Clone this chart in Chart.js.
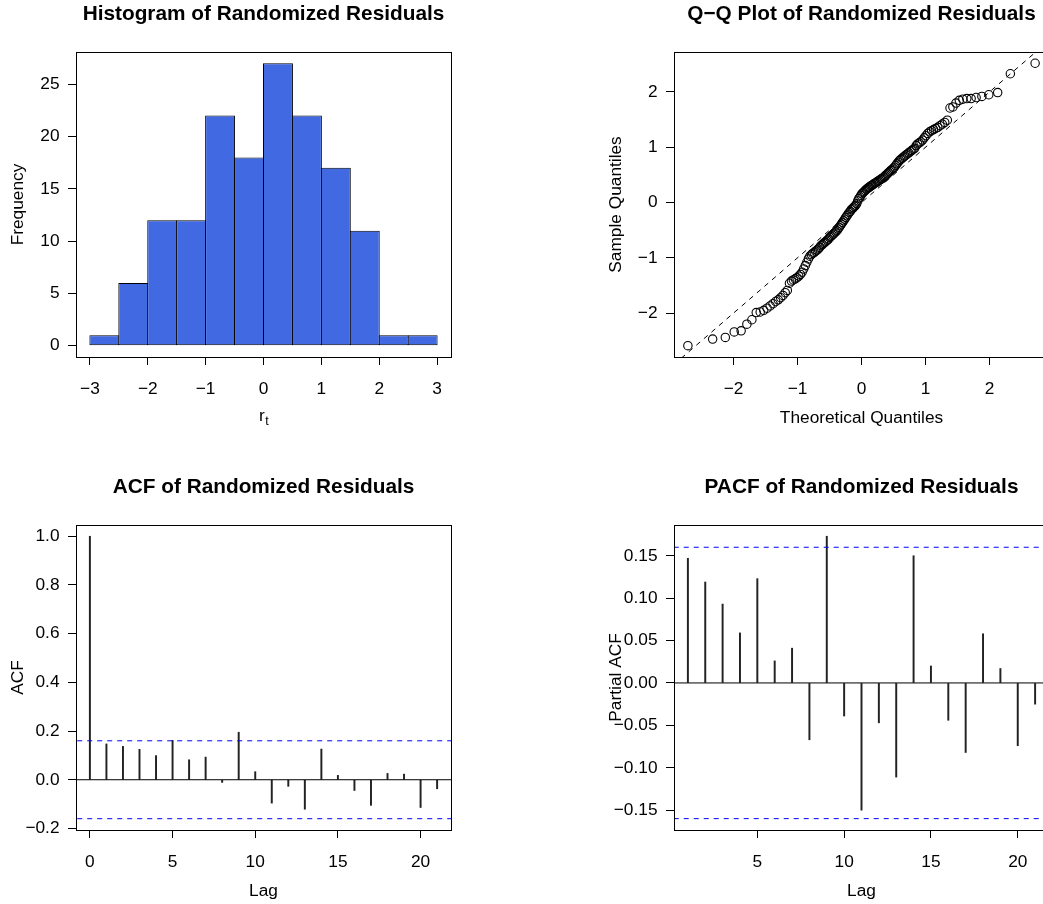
<!DOCTYPE html>
<html lang="en">
<head>
<meta charset="UTF-8">
<title>Randomized Residual Diagnostics</title>
<script src="https://cdn.jsdelivr.net/npm/chart.js"></script>
<style>
    html, body { margin: 0; padding: 0; background: #fff; }
    #page { position: relative; width: 1043px; height: 904px; overflow: hidden; background: #fff; }
    .panel { position: absolute; width: 527px; height: 473px; }
</style>
</head>
<body>
<div id="page">
    <div class="panel" style="left:0;top:0"><canvas id="hist" width="527" height="473"></canvas></div>
    <div class="panel" style="left:598px;top:0"><canvas id="qq" width="527" height="473"></canvas></div>
    <div class="panel" style="left:0;top:473px"><canvas id="acf" width="527" height="473"></canvas></div>
    <div class="panel" style="left:598px;top:473px"><canvas id="pacf" width="527" height="473"></canvas></div>
</div>
<script>
// histogram (bins of width 0.5 from -3 to 3)
const histBinMids = [-2.75, -2.25, -1.75, -1.25, -0.75, -0.25, 0.25, 0.75, 1.25, 1.75, 2.25, 2.75];
const histCounts = [1, 6, 12, 12, 22, 18, 27, 22, 17, 11, 1, 1];
const histXTicks = [-3, -2, -1, 0, 1, 2, 3];
const histXLabels = ['\u22123', '\u22122', '\u22121', '0', '1', '2', '3'];
const histYTicks = [0, 5, 10, 15, 20, 25];
const histYLabels = ['0', '5', '10', '15', '20', '25'];

// normal Q-Q plot
const qqTheoretical = [
    -2.713, -2.326, -2.128, -1.989, -1.881, -1.791, -1.713, -1.645, -1.583, -1.528,
    -1.476, -1.428, -1.383, -1.341, -1.301, -1.263, -1.227, -1.192, -1.159, -1.126,
    -1.095, -1.065, -1.036, -1.008, -0.980, -0.954, -0.928, -0.903, -0.878, -0.854,
    -0.830, -0.806, -0.783, -0.761, -0.739, -0.717, -0.695, -0.674, -0.654, -0.633,
    -0.613, -0.593, -0.573, -0.553, -0.534, -0.515, -0.496, -0.477, -0.459, -0.440,
    -0.422, -0.404, -0.385, -0.367, -0.349, -0.332, -0.314, -0.297, -0.279, -0.262,
    -0.245, -0.228, -0.210, -0.193, -0.176, -0.160, -0.143, -0.126, -0.109, -0.092,
    -0.075, -0.059, -0.042, -0.025, -0.008, 0.008, 0.025, 0.042, 0.059, 0.075,
    0.092, 0.109, 0.126, 0.143, 0.160, 0.176, 0.193, 0.210, 0.228, 0.245,
    0.262, 0.279, 0.297, 0.314, 0.332, 0.349, 0.367, 0.385, 0.404, 0.422,
    0.440, 0.459, 0.477, 0.496, 0.515, 0.534, 0.553, 0.573, 0.593, 0.613,
    0.633, 0.654, 0.674, 0.695, 0.717, 0.739, 0.761, 0.783, 0.806, 0.830,
    0.854, 0.878, 0.903, 0.928, 0.954, 0.980, 1.008, 1.036, 1.065, 1.095,
    1.126, 1.159, 1.192, 1.227, 1.263, 1.301, 1.341, 1.383, 1.428, 1.476,
    1.528, 1.583, 1.645, 1.713, 1.791, 1.881, 1.989, 2.128, 2.326, 2.713
];
const qqSample = [
    -2.59, -2.47, -2.44, -2.34, -2.32, -2.20, -2.12,
    -1.99, -1.98, -1.95, -1.91, -1.87, -1.83, -1.79, -1.76, -1.72, -1.68, -1.63, -1.59,
    -1.46, -1.42, -1.40, -1.38, -1.36, -1.33, -1.30, -1.26, -1.20, -1.14, -1.08, -1.02,
    -0.97, -0.94, -0.92, -0.90, -0.88, -0.86, -0.84, -0.81, -0.78, -0.76, -0.74,
    -0.72, -0.70, -0.68, -0.66, -0.63, -0.61, -0.59, -0.57, -0.55, -0.53, -0.51,
    -0.48, -0.45, -0.42, -0.39, -0.36, -0.33, -0.30, -0.27, -0.24, -0.21, -0.18,
    -0.16, -0.13, -0.11, -0.09, -0.07, -0.05, -0.02,
    0.03, 0.07, 0.10, 0.13, 0.16, 0.18, 0.20, 0.22, 0.24, 0.25, 0.27, 0.28, 0.30, 0.31,
    0.32, 0.34, 0.35, 0.36, 0.38, 0.39, 0.40, 0.42, 0.43, 0.44, 0.46, 0.48, 0.50,
    0.52, 0.54, 0.56, 0.58, 0.60, 0.62, 0.64, 0.67, 0.70, 0.73, 0.76,
    0.78, 0.80, 0.82, 0.84, 0.86, 0.88, 0.90, 0.92, 0.94, 0.96, 0.98,
    1.03, 1.06, 1.08, 1.10, 1.13, 1.17, 1.21, 1.25, 1.28, 1.30, 1.32, 1.34, 1.36,
    1.39, 1.42, 1.45, 1.49,
    1.71, 1.73, 1.80, 1.85, 1.87, 1.88, 1.88, 1.90, 1.92, 1.95, 1.99,
    2.33, 2.52
];
const qqLineX = [-4, 4];   // reference line y = x
const qqLineY = [-4, 4];
const qqTicks = [-2, -1, 0, 1, 2];
const qqLabels = ['\u22122', '\u22121', '0', '1', '2'];

// ACF / PACF
const acfLags = [0, 1, 2, 3, 4, 5, 6, 7, 8, 9, 10, 11, 12, 13, 14, 15, 16, 17, 18, 19, 20, 21];
const acfValues = [1.0, 0.147, 0.137, 0.125, 0.099, 0.162, 0.082, 0.093, -0.011, 0.195, 0.033,
    -0.096, -0.027, -0.121, 0.126, 0.018, -0.044, -0.105, 0.026, 0.023, -0.114, -0.037];
const pacfLags = [1, 2, 3, 4, 5, 6, 7, 8, 9, 10, 11, 12, 13, 14, 15, 16, 17, 18, 19, 20, 21];
const pacfValues = [0.147, 0.119, 0.093, 0.059, 0.123, 0.026, 0.041, -0.067, 0.173, -0.039, -0.150,
    -0.047, -0.111, 0.150, 0.020, -0.044, -0.082, 0.058, 0.017, -0.074, -0.025];
const ciBound = 0.16;
const acfXTicks = [0, 5, 10, 15, 20];
const acfXLabels = ['0', '5', '10', '15', '20'];
const acfYTicks = [-0.2, 0, 0.2, 0.4, 0.6, 0.8, 1.0];
const acfYLabels = ['\u22120.2', '0.0', '0.2', '0.4', '0.6', '0.8', '1.0'];
const pacfXTicks = [5, 10, 15, 20];
const pacfXLabels = ['5', '10', '15', '20'];
const pacfYTicks = [-0.15, -0.10, -0.05, 0, 0.05, 0.10, 0.15];
const pacfYLabels = ['\u22120.15', '\u22120.10', '\u22120.05', '0.00', '0.05', '0.10', '0.15'];

Chart.defaults.font.family = "'Liberation Sans', Arial, Helvetica, sans-serif";
Chart.defaults.font.size = 17.3;
Chart.defaults.color = '#000';

// box around the plot region, like R's box()
const boxPlugin = {
    id: 'rbox',
    afterDatasetsDraw(chart) {
        const a = chart.chartArea, ctx = chart.ctx;
        ctx.save();
        ctx.strokeStyle = '#000';
        ctx.lineWidth = 1;
        ctx.strokeRect(Math.round(a.left) + 0.5, Math.round(a.top) + 0.5,
            Math.round(a.right - a.left), Math.round(a.bottom - a.top));
        ctx.restore();
    }
};

function xAxis(min, max, ticks, labels, title) {
    return {
        type: 'linear', min: min, max: max, offset: false,
        grid: { drawOnChartArea: false, tickLength: 8, color: '#000', lineWidth: 1, offset: false },
        border: { display: false },
        afterBuildTicks: s => { s.ticks = ticks.map(v => ({ value: v })); },
        afterFit: s => { s.height = 116; },
        ticks: { autoSkip: false, maxRotation: 0, padding: 13.5, callback: (v, i) => labels[i] },
        title: { display: !!title, text: title, padding: { top: 0, bottom: 44 } }
    };
}

function yAxis(min, max, ticks, labels, title) {
    return {
        type: 'linear', min: min, max: max,
        grid: { drawOnChartArea: false, tickLength: 8, color: '#000', lineWidth: 1 },
        border: { display: false },
        afterBuildTicks: s => { s.ticks = ticks.map(v => ({ value: v })); },
        afterFit: s => { s.width = 76; },
        ticks: { autoSkip: false, padding: 8.5, callback: (v, i) => labels[i] },
        title: { display: true, text: title, padding: { top: 7.6, bottom: 0 } }
    };
}

// empty right margin, so the title centres over the plot region
const rightMargin = {
    type: 'linear', position: 'right', display: true,
    grid: { display: false }, border: { display: false },
    ticks: { display: false },
    afterFit: s => { s.width = 76; }
};

function baseOptions(title, xs, ys) {
    return {
        responsive: false,
        animation: false,
        events: [],
        devicePixelRatio: 1,
        layout: { padding: 0 },
        plugins: {
            legend: { display: false },
            tooltip: { enabled: false },
            title: {
                display: true, text: title, color: '#000',
                font: { size: 20.8, weight: 'bold' },
                padding: { top: 2, bottom: 25 }
            }
        },
        scales: { x: xs, y: ys, yr: rightMargin }
    };
}

// histogram x label with subscript: r_t
const subLabel = {
    id: 'subLabel',
    afterDraw(chart) {
        const ctx = chart.ctx, a = chart.chartArea;
        const fam = Chart.defaults.font.family;
        ctx.save();
        ctx.fillStyle = '#000';
        ctx.textBaseline = 'alphabetic';
        ctx.font = '17.3px ' + fam;
        const wr = ctx.measureText('r').width;
        ctx.font = '12.5px ' + fam;
        const wt = ctx.measureText('t').width;
        const x0 = (a.left + a.right) / 2 - (wr + wt) / 2;
        ctx.font = '17.3px ' + fam;
        ctx.fillText('r', x0, 421);
        ctx.font = '12.5px ' + fam;
        ctx.fillText('t', x0 + wr + 0.5, 425);
        ctx.restore();
    }
};

new Chart(document.getElementById('hist'), {
    type: 'bar',
    data: {
        datasets: [{
            data: histBinMids.map((m, i) => ({ x: m, y: histCounts[i] })),
            backgroundColor: '#4169E1',
            borderColor: '#000',
            borderWidth: 1,
            borderSkipped: false,
            barPercentage: 1.035,
            categoryPercentage: 1
        }]
    },
    options: baseOptions('Histogram of Randomized Residuals',
        xAxis(-3.24, 3.24, histXTicks, histXLabels, ''),
        yAxis(-1.08, 28.08, histYTicks, histYLabels, 'Frequency')),
    plugins: [boxPlugin, subLabel]
});

new Chart(document.getElementById('qq'), {
    type: 'scatter',
    data: {
        datasets: [{
            type: 'line',
            data: qqLineX.map((x, i) => ({ x: x, y: qqLineY[i] })),
            borderColor: '#000',
            borderWidth: 1,
            borderDash: [5, 5],
            pointRadius: 0
        }, {
            data: qqTheoretical.map((t, i) => ({ x: t, y: qqSample[i] })),
            pointStyle: 'circle',
            pointRadius: 4.2,
            pointBorderWidth: 1.1,
            pointBorderColor: '#000',
            pointBackgroundColor: 'rgba(0,0,0,0)'
        }]
    },
    options: baseOptions('Q\u2212Q Plot of Randomized Residuals',
        xAxis(-2.93, 2.93, qqTicks, qqLabels, 'Theoretical Quantiles'),
        yAxis(-2.794, 2.724, qqTicks, qqLabels, 'Sample Quantiles')),
    plugins: [boxPlugin]
});

function hLine(y, color, dash) {
    return {
        type: 'line',
        data: [{ x: -5, y: y }, { x: 30, y: y }],
        borderColor: color,
        borderWidth: 1,
        borderDash: dash,
        pointRadius: 0
    };
}

function corrChart(id, title, lags, values, xs, ys) {
    return new Chart(document.getElementById(id), {
        type: 'bar',
        data: {
            datasets: [
                hLine(0, '#000', []),
                hLine(ciBound, '#0000FF', [5, 5]),
                hLine(-ciBound, '#0000FF', [5, 5]),
                {
                    type: 'bar',
                    data: lags.map((l, i) => ({ x: l, y: values[i] })),
                    backgroundColor: '#222',
                    borderWidth: 0,
                    barThickness: 1.3
                }
            ]
        },
        options: baseOptions(title, xs, ys),
        plugins: [boxPlugin]
    });
}

corrChart('acf', 'ACF of Randomized Residuals', acfLags, acfValues,
    xAxis(-0.84, 21.84, acfXTicks, acfXLabels, 'Lag'),
    yAxis(-0.2064, 1.0464, acfYTicks, acfYLabels, 'ACF'));

corrChart('pacf', 'PACF of Randomized Residuals', pacfLags, pacfValues,
    xAxis(0.2, 21.8, pacfXTicks, pacfXLabels, 'Lag'),
    yAxis(-0.1734, 0.1863, pacfYTicks, pacfYLabels, 'Partial ACF'));
</script>
</body>
</html>
